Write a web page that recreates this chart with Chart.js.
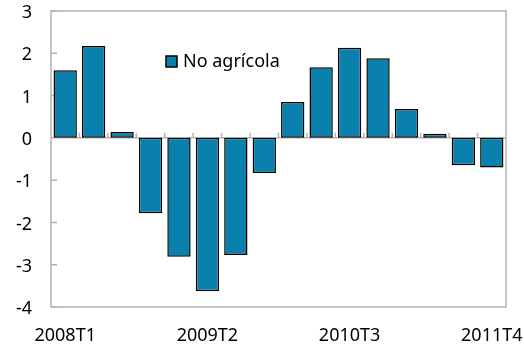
<!DOCTYPE html>
<html>
<head>
<meta charset="utf-8">
<script src="https://cdn.jsdelivr.net/npm/chart.js@4/dist/chart.umd.min.js"></script>
<style>
  html, body { margin: 0; padding: 0; background: #fff; }
  #wrap { width: 524px; height: 345px; }
</style>
</head>
<body>
<div id="wrap"><canvas id="empleo"></canvas></div>
<script>
const quarters = [
  "2008T1", "2008T2", "2008T3", "2008T4",
  "2009T1", "2009T2", "2009T3", "2009T4",
  "2010T1", "2010T2", "2010T3", "2010T4",
  "2011T1", "2011T2", "2011T3", "2011T4"
];
const noAgricola = [1.6, 2.17, 0.14, -1.78, -2.81, -3.63, -2.77, -0.83,
                    0.85, 1.67, 2.13, 1.88, 0.68, 0.1, -0.65, -0.7];
const yTicks = [-4, -3, -2, -1, 0, 1, 2, 3];

const FONT = "'Noto Sans', 'Open Sans', sans-serif";
const AXIS_GREY = "#b4b4b4";

// frame, zero line and inward tick marks, drawn under the bars
const frame = {
  id: "frame",
  beforeDatasetsDraw(chart) {
    const { ctx, chartArea: a, scales: { x, y } } = chart;
    const y0 = y.getPixelForValue(0);
    ctx.save();
    ctx.strokeStyle = AXIS_GREY;
    ctx.lineWidth = 1.5;
    ctx.strokeRect(a.left, a.top, a.right - a.left, a.bottom - a.top);
    ctx.beginPath();
    ctx.moveTo(a.left, y0);
    ctx.lineTo(a.right, y0);
    yTicks.forEach(v => {
      const py = y.getPixelForValue(v);
      ctx.moveTo(a.left, py);
      ctx.lineTo(a.left + 6, py);
    });
    const step = (a.right - a.left) / quarters.length;
    for (let i = 1; i < quarters.length; i++) {
      const px = x.getPixelForValue(i) - step / 2;
      ctx.moveTo(px, y0);
      ctx.lineTo(px, y0 - 5);
    }
    ctx.stroke();
    ctx.restore();
  }
};

// legend sitting inside the plot
const innerLegend = {
  id: "innerLegend",
  afterDatasetsDraw(chart) {
    const { ctx, chartArea: a } = chart;
    const ds = chart.data.datasets[0];
    const bx = a.left + 115, by = a.top + 45;
    ctx.save();
    ctx.fillStyle = ds.backgroundColor;
    ctx.fillRect(bx, by, 11, 11);
    ctx.strokeStyle = "#000";
    ctx.lineWidth = 1.5;
    ctx.strokeRect(bx, by, 11, 11);
    ctx.fillStyle = "#000";
    ctx.font = "18px " + FONT;
    ctx.textBaseline = "middle";
    ctx.fillText(ds.label, bx + 17, by + 6);
    ctx.restore();
  }
};

new Chart(document.getElementById("empleo"), {
  type: "bar",
  data: {
    labels: quarters,
    datasets: [{
      label: "No agrícola",
      data: noAgricola,
      backgroundColor: "#0a80ad",
      borderColor: "#000",
      borderWidth: 1.5,
      borderSkipped: false,
      barPercentage: 0.82,
      categoryPercentage: 1
    }]
  },
  options: {
    responsive: true,
    maintainAspectRatio: false,
    animation: false,
    layout: {
      autoPadding: false,
      padding: { left: 0, top: 11, right: 18, bottom: 0 }
    },
    plugins: {
      legend: { display: false },
      tooltip: { enabled: false }
    },
    scales: {
      x: {
        grid: { display: false, drawTicks: false },
        border: { display: false },
        ticks: {
          autoSkip: false,
          maxRotation: 0,
          padding: 18,
          color: "#000",
          font: { family: FONT, size: 18 },
          callback: (v, i) => (i % 5 === 0 ? quarters[i] : "")
        },
        afterFit: s => {
          s.height = 38;
          s.paddingLeft = 0;
          s.paddingRight = 0;
        }
      },
      y: {
        min: -4,
        max: 3,
        grid: { display: false, drawTicks: false },
        border: { display: false },
        ticks: {
          stepSize: 1,
          padding: 19,
          labelOffset: 2,
          color: "#000",
          font: { family: FONT, size: 18 }
        },
        afterFit: s => {
          s.width = 51;
          s.paddingTop = 0;
          s.paddingBottom = 0;
        }
      }
    }
  },
  plugins: [frame, innerLegend]
});
</script>
</body>
</html>
